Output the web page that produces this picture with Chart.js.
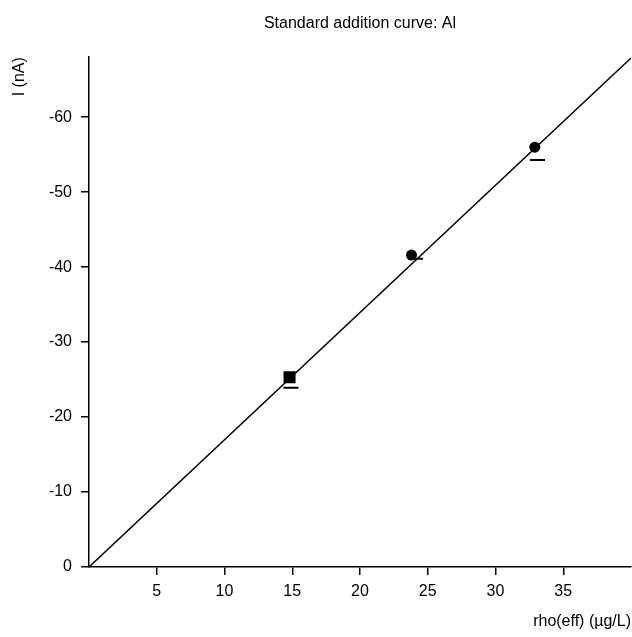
<!DOCTYPE html>
<html>
<head>
<meta charset="utf-8">
<script src="https://cdn.jsdelivr.net/npm/chart.js@4/dist/chart.umd.min.js"></script>
<style>
  body { margin: 0; background: #fff; }
  #wrap { width: 632px; height: 637px; }
</style>
</head>
<body>
<div id="wrap"><canvas id="chart" width="632" height="637"></canvas></div>
<script>
// measured points (x = rho(eff) in µg/L, y = I in nA)
const sampleX = [14.8];
const sampleY = [-25.3];
const addX = [23.8, 32.9];
const addY = [-41.6, -56.0];
// short dashes under the points
const markX = [14.9, 24.1, 33.1];
const markY = [-23.9, -41.1, -54.3];
// regression line ends
const fitX = [0, 40];
const fitY = [0, -67.9];

const xTicks = [5, 10, 15, 20, 25, 30, 35];
const yTicks = [0, -10, -20, -30, -40, -50, -60];

const FAMILY = "'Liberation Sans', Arial, sans-serif";
const FONT = { family: FAMILY, size: 16, weight: 'normal' };
Chart.defaults.font.family = FAMILY;
Chart.defaults.font.size = 16;
Chart.defaults.color = '#000';

const pts = (xs, ys) => xs.map((x, i) => ({ x: x, y: ys[i] }));

// y title sits at the top of the axis, reading upward
const yTitle = {
    id: 'yTitle',
    afterDraw(chart) {
        const ctx = chart.ctx;
        ctx.save();
        ctx.translate(20, chart.chartArea.top);
        ctx.rotate(-Math.PI / 2);
        ctx.font = '16px ' + FAMILY;
        ctx.fillStyle = '#000';
        ctx.textAlign = 'right';
        ctx.textBaseline = 'middle';
        ctx.fillText('I (nA)', 0, 0);
        ctx.restore();
    }
};

new Chart(document.getElementById('chart').getContext('2d'), {
    type: 'scatter',
    data: {
        datasets: [
            {
                label: 'fit',
                data: pts(fitX, fitY),
                showLine: true,
                borderColor: '#000',
                borderWidth: 1.5,
                pointRadius: 0
            },
            {
                label: 'marks',
                data: pts(markX, markY),
                pointStyle: 'line',
                pointRadius: 7.5,
                borderColor: '#000',
                borderWidth: 2
            },
            {
                label: 'sample',
                data: pts(sampleX, sampleY),
                pointStyle: 'rect',
                pointRadius: 8.5,
                backgroundColor: '#000',
                borderColor: '#000',
                borderWidth: 0
            },
            {
                label: 'additions',
                data: pts(addX, addY),
                pointStyle: 'circle',
                pointRadius: 5.5,
                backgroundColor: '#000',
                borderColor: '#000',
                borderWidth: 0
            }
        ]
    },
    plugins: [yTitle],
    options: {
        responsive: false,
        animation: false,
        layout: { autoPadding: false, padding: { top: 2, right: 1, left: 0, bottom: 0 } },
        plugins: {
            legend: { display: false },
            tooltip: { enabled: false },
            title: {
                display: true,
                text: 'Standard addition curve: Al',
                fullSize: false,
                font: FONT,
                padding: { top: 12, bottom: 24 }
            }
        },
        scales: {
            x: {
                type: 'linear',
                min: 0,
                max: 40,
                afterBuildTicks: (axis) => { axis.ticks = xTicks.map(v => ({ value: v })); },
                afterFit: (axis) => { axis.height = 70; axis.paddingLeft = 0; axis.paddingRight = 0; },
                ticks: { padding: 7, maxRotation: 0 },
                grid: { display: true, drawOnChartArea: false, drawTicks: true, tickLength: 8, color: '#000', lineWidth: 1.5 },
                border: { display: true, color: '#000', width: 1.5 },
                title: { display: true, text: 'rho(eff) (µg/L)', align: 'end', font: FONT, padding: { top: 4, bottom: 6 } }
            },
            y: {
                type: 'linear',
                reverse: true,
                min: -68,
                max: 0,
                afterBuildTicks: (axis) => { axis.ticks = yTicks.map(v => ({ value: v })); },
                afterFit: (axis) => { axis.width = 89; axis.paddingTop = 0; axis.paddingBottom = 0; },
                ticks: { padding: 9 },
                grid: { display: true, drawOnChartArea: false, drawTicks: true, tickLength: 8, color: '#000', lineWidth: 1.5 },
                border: { display: true, color: '#000', width: 1.5 }
            }
        }
    }
});
</script>
</body>
</html>
